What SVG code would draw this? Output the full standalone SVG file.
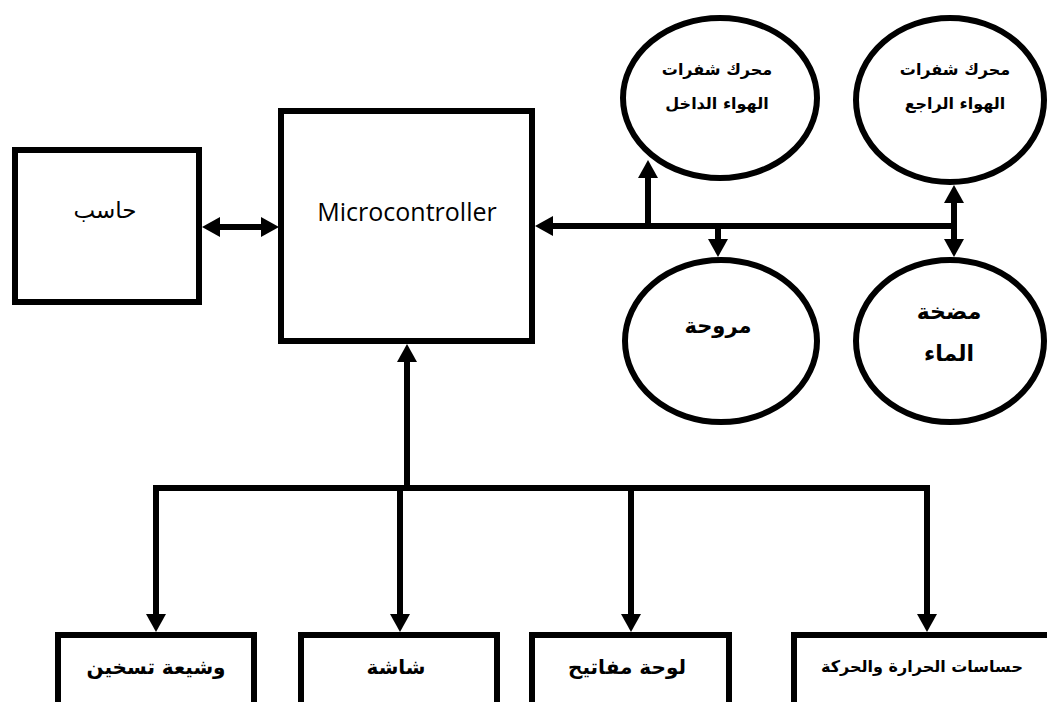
<svg xmlns="http://www.w3.org/2000/svg" width="1047" height="702" viewBox="0 0 1047 702">
  <style>
    .box { fill: #fff; stroke: #000; stroke-width: 6; }
    .ell { fill: #fff; stroke: #000; stroke-width: 6; }
    .wire { fill: none; stroke: #000; stroke-width: 6; }
    .ar { font-family: 'DejaVu Sans', 'Noto Sans', sans-serif; font-weight: bold; text-anchor: middle; fill: #000; }
    .lat { font-family: 'Open Sans', 'Liberation Sans', sans-serif; text-anchor: middle; fill: #000; }
  </style>
  <defs>
    <marker id="ah" viewBox="0 0 18 20" refX="0" refY="10" markerWidth="18" markerHeight="20" markerUnits="userSpaceOnUse" orient="auto-start-reverse">
      <path d="M0,0 L18,10 L0,20 z" fill="#000"/>
    </marker>
  </defs>
  <rect width="1047" height="702" fill="#fff"/>

  <g id="connectors">
    <line class="wire" x1="220" y1="227" x2="261" y2="227" marker-start="url(#ah)" marker-end="url(#ah)"/>
    <line class="wire" x1="957" y1="226" x2="553" y2="226" marker-end="url(#ah)"/>
    <line class="wire" x1="648" y1="226" x2="648" y2="178" marker-end="url(#ah)"/>
    <line class="wire" x1="718" y1="226" x2="718" y2="239" marker-end="url(#ah)"/>
    <line class="wire" x1="954" y1="203" x2="954" y2="239" marker-start="url(#ah)" marker-end="url(#ah)"/>
    <line class="wire" x1="407" y1="488" x2="407" y2="362" stroke-width="7" marker-end="url(#ah)"/>
    <polyline class="wire" points="156,614 156,488 927,488 927,614"/>
    <line class="wire" x1="156" y1="600" x2="156" y2="614" marker-end="url(#ah)"/>
    <line class="wire" x1="927" y1="600" x2="927" y2="614" marker-end="url(#ah)"/>
    <line class="wire" x1="400" y1="488" x2="400" y2="614" marker-end="url(#ah)"/>
    <line class="wire" x1="631" y1="488" x2="631" y2="614" marker-end="url(#ah)"/>
  </g>

  <g id="computer">
    <rect class="box" x="15" y="150" width="184" height="152"/>
    <text x="105" y="218" font-family="'DejaVu Sans', sans-serif" font-size="23" text-anchor="middle">حاسب</text>
  </g>

  <g id="microcontroller">
    <rect class="box" x="281" y="111" width="251" height="230"/>
    <text class="lat" x="407" y="221" font-size="25">Microcontroller</text>
  </g>

  <g id="intake-motor">
    <ellipse class="ell" cx="720" cy="98" rx="97" ry="80"/>
    <text class="ar" x="717" y="75" font-size="16">محرك شفرات</text>
    <text class="ar" x="717" y="109" font-size="16">الهواء الداخل</text>
  </g>

  <g id="return-motor">
    <ellipse class="ell" cx="950" cy="100" rx="94" ry="82"/>
    <text class="ar" x="955" y="75" font-size="16">محرك شفرات</text>
    <text class="ar" x="955" y="109" font-size="16">الهواء الراجع</text>
  </g>

  <g id="fan">
    <ellipse class="ell" cx="721" cy="341" rx="96" ry="81"/>
    <text class="ar" x="718" y="333" font-size="21">مروحة</text>
  </g>

  <g id="pump">
    <ellipse class="ell" cx="950" cy="341" rx="94" ry="81"/>
    <text class="ar" x="949" y="319" font-size="22">مضخة</text>
    <text class="ar" x="949" y="361" font-size="22">الماء</text>
  </g>

  <g id="heater">
    <rect class="box" x="58" y="635" width="196" height="100"/>
    <text class="ar" x="156" y="674" font-size="20">وشيعة تسخين</text>
  </g>

  <g id="display">
    <rect class="box" x="301" y="635" width="196" height="100"/>
    <text class="ar" x="396" y="674" font-size="20">شاشة</text>
  </g>

  <g id="keypad">
    <rect class="box" x="532" y="635" width="197" height="100"/>
    <text class="ar" x="627" y="674" font-size="20">لوحة مفاتيح</text>
  </g>

  <g id="sensors">
    <rect class="box" x="794" y="635" width="300" height="100"/>
    <text class="ar" x="922" y="672" font-size="16">حساسات الحرارة والحركة</text>
  </g>
</svg>
